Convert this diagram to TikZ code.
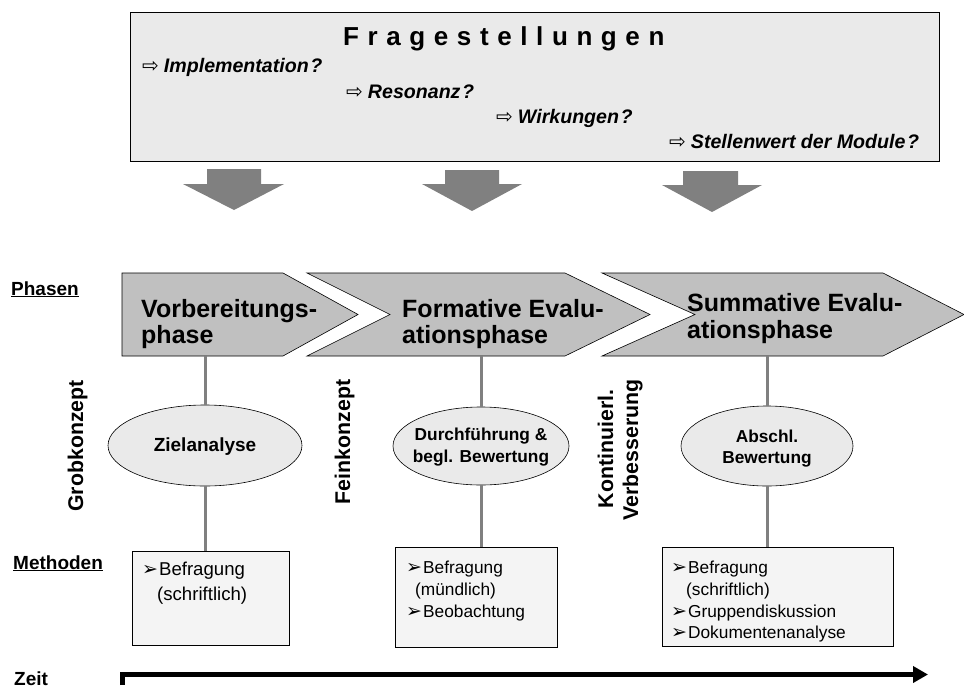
\documentclass[tikz,border=0pt]{standalone}
\usepackage{fontspec}
\setmainfont{Liberation Sans}
\newfontfamily\sym{DejaVu Sans}
\usetikzlibrary{shapes.geometric,arrows.meta}
\definecolor{topfill}{HTML}{EAEAEA}
\definecolor{chevfill}{HTML}{C0C0C0}
\definecolor{boxfill}{HTML}{F4F4F4}
\definecolor{arrgray}{HTML}{808080}
\tikzset{
  chev/.style={draw=black, line width=0.6pt, fill=chevfill},
  blockarrow/.style={fill=arrgray, draw=none},
  conn/.style={draw=arrgray, line width=3pt},
  ell/.style={ellipse, draw=black, line width=0.6pt, fill=topfill, inner sep=0pt},
  methbox/.style={rectangle, draw=black, line width=0.6pt, fill=boxfill, anchor=north west, inner sep=0pt},
  txt/.style={anchor=base west, inner sep=0pt},
  ctxt/.style={anchor=base, inner sep=0pt},
  vlab/.style={anchor=base, rotate=90, inner sep=0pt, font=\fontsize{21.3}{25}\selectfont\bfseries},
}
\newcommand{\qarr}{{\sym\fontsize{20}{22}\selectfont ⇨}\hspace{5pt}}
\newcommand{\bul}{{\sym\fontsize{19}{21}\selectfont ➢}\kern1pt}
\newcommand{\qfont}{\fontsize{19.6}{23}\selectfont\bfseries\itshape}
\newcommand{\qm}{\kern1.5pt?}
\def\ls{\hspace{8.6pt}}
\begin{document}
\begin{tikzpicture}[x=1pt, y=-1pt]
\useasboundingbox (0,0) rectangle (964,688);
\fill[white] (0,0) rectangle (964,688);

% top box
\node[rectangle, draw=black, line width=0.7pt, fill=topfill, anchor=north west, minimum width=809pt, minimum height=149pt, inner sep=0pt] (top) at (130,12) {};
\node[txt] (title) at (343,45) {\fontsize{26}{30}\selectfont\bfseries F\ls r\ls a\ls g\ls e\ls s\ls t\ls e\ls l\ls l\ls u\ls n\ls g\ls e\ls n};
\node[txt] (q1) at (142,72) {\qarr\qfont Implementation\qm};
\node[txt] (q2) at (346,98) {\qarr\qfont Resonanz\qm};
\node[txt] (q3) at (496,123) {\qarr\qfont Wirkungen\qm};
\node[txt] (q4) at (669,148) {\qarr\qfont Stellenwert der Module\qm};

% block arrows
\fill[blockarrow] (207,169) -- (261,169) -- (261,184) -- (284,184) -- (234,210) -- (183,184) -- (207,184) -- cycle;
\fill[blockarrow] (445,170) -- (499,170) -- (499,184) -- (522,184) -- (472,211) -- (422,184) -- (445,184) -- cycle;
\fill[blockarrow] (683,171) -- (738,171) -- (738,185) -- (762,185) -- (712,212) -- (662,185) -- (683,185) -- cycle;

% chevrons
\draw[chev] (122,273) -- (283,273) -- (358,314.5) -- (283,356) -- (122,356) -- cycle;
\draw[chev] (307,273) -- (565,273) -- (650,314.5) -- (565,356) -- (307,356) -- (390,314.5) -- cycle;
\draw[chev] (602,273) -- (883,273) -- (964,314.5) -- (883,356) -- (602,356) -- (695,314.5) -- cycle;
\coordinate (c1) at (205,356);
\coordinate (c2) at (481,356);
\coordinate (c3) at (767,356);

\node[txt] (p1a) at (141,317) {\fontsize{25}{30}\selectfont\bfseries Vorbereitungs-};
\node[txt] (p1b) at (141,343) {\fontsize{25}{30}\selectfont\bfseries phase};
\node[txt] (p2a) at (402,317) {\fontsize{25}{30}\selectfont\bfseries Formative Evalu-};
\node[txt] (p2b) at (402,343) {\fontsize{25}{30}\selectfont\bfseries ationsphase};
\node[txt] (p3a) at (687,311) {\fontsize{25}{30}\selectfont\bfseries Summative Evalu-};
\node[txt] (p3b) at (687,338) {\fontsize{25}{30}\selectfont\bfseries ationsphase};

% left labels
\node[txt] (phasen) at (11,295) {\fontsize{19}{23}\selectfont\bfseries\underline{Phasen}};
\node[txt] (methoden) at (13,569) {\fontsize{19}{23}\selectfont\bfseries\underline{Methoden}};
\node[txt] (zeit) at (14,685) {\fontsize{19}{23}\selectfont\bfseries Zeit};

% vertical labels
\node[vlab] (grob) at (83,446) {Grobkonzept};
\node[vlab] (fein) at (350,442) {Feinkonzept};
\node[vlab] (kont) at (613,449) {Kontinuierl.};
\node[vlab] (verb) at (638,450) {Verbesserung};

% ellipses
\node[ell, minimum width=194pt, minimum height=81pt] (e1) at (205,445.5) {};
\node[ctxt] (e1t) at (205,451) {\fontsize{19}{23}\selectfont\bfseries Zielanalyse};
\node[ell, minimum width=176pt, minimum height=78pt] (e2) at (481,446) {};
\node[ctxt] (e2a) at (481,440) {\fontsize{17.3}{21}\selectfont\bfseries Durchführung \&};
\node[ctxt] (e2b) at (481,462) {\fontsize{17.3}{21}\selectfont\bfseries begl. Bewertung};
\node[ell, minimum width=172pt, minimum height=80pt] (e3) at (767,446) {};
\node[ctxt] (e3a) at (767,442) {\fontsize{17.3}{21}\selectfont\bfseries Abschl.};
\node[ctxt] (e3b) at (767,463) {\fontsize{17.3}{21}\selectfont\bfseries Bewertung};

% method boxes
\node[methbox, minimum width=157pt, minimum height=94pt] (b1) at (132,551) {};
\node[methbox, minimum width=162pt, minimum height=100pt] (b2) at (395,547) {};
\node[methbox, minimum width=231pt, minimum height=99pt] (b3) at (662,547) {};

\node[txt] (b1a) at (142,575) {\bul\fontsize{18.6}{22}\selectfont Befragung};
\node[txt] (b1b) at (157,600) {\fontsize{18.6}{22}\selectfont (schriftlich)};

\node[txt] (b2a) at (406,573) {\bul\fontsize{17.3}{21}\selectfont Befragung};
\node[txt] (b2b) at (415,595) {\fontsize{17.3}{21}\selectfont (mündlich)};
\node[txt] (b2c) at (406,617) {\bul\fontsize{17.3}{21}\selectfont Beobachtung};

\node[txt] (b3a) at (671,573) {\bul\fontsize{17.3}{21}\selectfont Befragung};
\node[txt] (b3b) at (686,595) {\fontsize{17.3}{21}\selectfont (schriftlich)};
\node[txt] (b3c) at (671,617) {\bul\fontsize{17.3}{21}\selectfont Gruppendiskussion};
\node[txt] (b3d) at (671,638) {\bul\fontsize{17.3}{21}\selectfont Dokumentenanalyse};

% connectors
\draw[conn] (c1) -- (e1.north);
\draw[conn] (e1.south) -- (b1.north -| e1.south);
\draw[conn] (c2) -- (e2.north);
\draw[conn] (e2.south) -- (b2.north -| e2.south);
\draw[conn] (c3) -- (e3.north);
\draw[conn] (e3.south) -- (b3.north -| e3.south);

% timeline
\coordinate (tl0) at (122.5,685);
\coordinate (tl1) at (122.5,674.5);
\coordinate (tl2) at (928,674.5);
\draw[line width=4.5pt, -{Triangle[length=15pt, width=16pt]}] (tl0) -- (tl1) -- (tl2);
\end{tikzpicture}
\end{document}
